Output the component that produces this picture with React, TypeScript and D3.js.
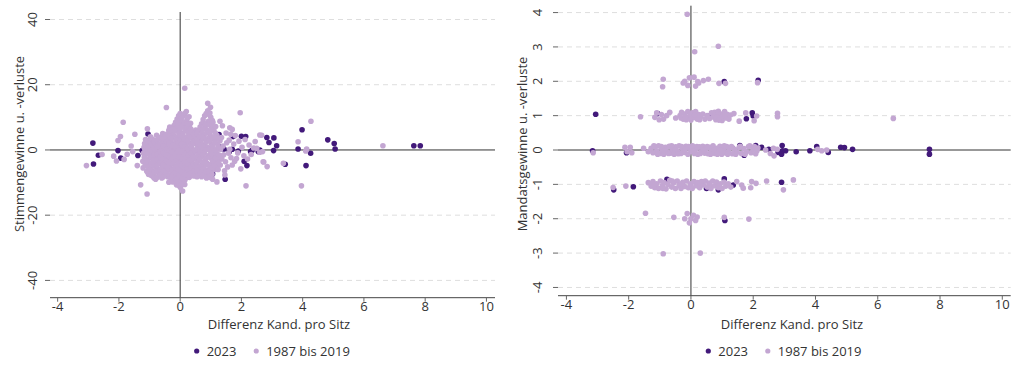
import React from "react";
import * as d3 from "d3";

type P = [number, number];

const xTicks = [-4, -2, 0, 2, 4, 6, 8, 10];
const votesTicks = [40, 20, 0, -20, -40];
const seatsTicks = [4, 3, 2, 1, 0, -1, -2, -3, -4];
const legendLabels = ["2023", "1987 bis 2019"];
const xTitle = "Differenz Kand. pro Sitz";
const votesTitle = "Stimmengewinne u. -verluste";
const seatsTitle = "Mandatsgewinne u. -verluste";

const votes2023: P[] = [
  [-2.85, 2.1], [-2.67, -1.6], [-2.83, -4.3], [-2.03, -0.2], [-1.94, -2.5], [-1.38, -1.7], [-1.24, -0.2],
  [-1.05, 4.9], [-0.53, 4.0], [-0.37, 4.9], [0.73, 3.9], [1.27, 4.7], [1.73, 4.1], [2.0, 4.2], [2.14, 4.1],
  [2.09, -3.5], [2.18, -4.8], [2.3, -0.5], [2.35, -0.1], [2.55, -0.5], [2.83, 3.8], [3.06, 3.7], [2.9, 2.3],
  [3.15, 1.3], [3.05, -0.2], [3.85, 0.3], [3.43, -4.4], [1.47, -9.0], [1.05, -5.8], [1.06, -7.4], [1.43, 0.3],
  [1.3, 0.9], [3.98, 6.2], [4.26, -1.0], [4.11, -4.8], [4.82, 3.1], [5.03, 2.0], [5.06, 0.3], [7.63, 1.3],
  [7.84, 1.3], [2.6, 0.0], [1.7, 0.2], [1.9, -0.3], [0.65, -7.0], [1.6, -0.6]
];

const votesEarlier: P[] = [
  // sparse
  [-3.06, -4.8], [-2.55, -1.4], [-2.17, -1.9], [-2.08, -3.4], [-1.86, 8.5], [-2.03, 2.9], [-1.95, 4.1],
  [-1.73, -1.3], [-1.83, -2.9], [-1.48, 4.8], [-1.4, -4.8], [-1.29, -10.7], [-1.08, -13.5], [-1.07, 6.5],
  [-0.45, 13.0], [-0.37, -9.9], [-0.12, -10.7], [0.08, -12.6], [0.15, -10.6], [0.15, 18.9], [0.9, 14.3],
  [0.99, 13.1], [0.97, 11.3], [1.96, 11.4], [1.62, 6.8], [2.66, 4.5], [2.15, -11.0], [1.46, -7.7],
  [1.06, -9.0], [2.71, -3.6], [2.84, -5.1], [4.27, 8.8], [3.85, 2.5], [4.13, 0.3], [4.1, -0.3], [3.96, -11.0],
  [6.62, 1.3], [3.37, -4.1], [2.73, -3.7], [2.69, -0.5], [2.6, 4.6], [-1.55, -0.5], [-1.6, 1.2],
  // right shoulder
  [1.35, 3.8], [1.4, 1.2], [1.42, -1.5], [1.48, -3.6], [1.5, 5.2], [1.55, -5.2], [1.6, 3.0], [1.62, 0.2],
  [1.66, -2.4], [1.7, -4.6], [1.75, 1.8], [1.8, 4.4], [1.84, -2.6], [1.88, -0.9], [1.92, 2.7], [1.98, -5.8],
  [2.02, 0.8], [2.08, -1.8], [2.12, 3.2], [2.2, -2.8], [2.25, 1.5], [2.32, -1.4], [2.4, 0.6], [2.45, 2.6],
  [2.5, 0.5], [2.6, -0.7], [1.7, 6.3], [1.45, -6.4], [1.38, 7.4], [1.2, -9.8], [1.3, 8.8], [0.34, 8.2],
  [0.29, 10.2], [0.51, 6.1], [1.52, 2.2], [1.58, -1.0], [1.36, -2.8], [1.65, 4.8], [1.78, -3.5],
  // blob, layer 1
  [-1.2, -1.0], [-1.22, -3.5], [-1.18, 0.8], [-1.21, -5.5], [-1.17, -2.2],
  [-1.1, 1.5], [-1.12, -0.5], [-1.08, -2.8], [-1.11, -4.6], [-1.09, -6.5], [-1.13, 3.2],
  [-1.0, 2.4], [-1.02, 0.2], [-0.98, -1.6], [-1.01, -3.9], [-0.99, -5.8], [-1.03, -7.5], [-0.97, 4.0],
  [-0.9, 3.3], [-0.92, 1.0], [-0.88, -0.8], [-0.91, -2.6], [-0.89, -4.4], [-0.93, -6.3], [-0.87, -8.2],
  [-0.8, 2.0], [-0.82, 0.0], [-0.78, -1.8], [-0.81, -3.5], [-0.79, -5.2], [-0.83, -7.0], [-0.77, 4.5], [-0.8, -9.0],
  [-0.7, 3.8], [-0.72, 1.6], [-0.68, -0.6], [-0.71, -2.4], [-0.69, -4.1], [-0.73, -6.0], [-0.67, -7.8],
  [-0.6, 2.9], [-0.62, 0.7], [-0.58, -1.2], [-0.61, -3.1], [-0.59, -4.9], [-0.63, -6.8], [-0.57, 5.0], [-0.6, -8.6],
  [-0.5, 4.2], [-0.52, 1.9], [-0.48, -0.2], [-0.51, -2.0], [-0.49, -3.8], [-0.53, -5.6], [-0.47, -7.4],
  [-0.4, 3.5], [-0.42, 1.2], [-0.38, -0.9], [-0.41, -2.8], [-0.39, -4.6], [-0.43, -6.4], [-0.37, 6.0], [-0.4, -8.3],
  [-0.3, 5.2], [-0.32, 2.6], [-0.28, 0.4], [-0.31, -1.5], [-0.29, -3.3], [-0.33, -5.1], [-0.27, -7.0], [-0.3, -8.8],
  [-0.2, 7.5], [-0.22, 4.6], [-0.18, 2.0], [-0.21, -0.3], [-0.19, -2.2], [-0.23, -4.0], [-0.17, -5.8], [-0.2, -7.7], [-0.22, -9.4],
  [-0.1, 9.5], [-0.12, 6.8], [-0.08, 4.0], [-0.11, 1.4], [-0.09, -0.8], [-0.13, -2.9], [-0.07, -4.8], [-0.1, -6.6], [-0.12, -8.5], [-0.08, -10.2],
  [0.0, 11.2], [0.02, 8.6], [-0.02, 6.0], [0.01, 3.2], [-0.01, 0.8], [0.03, -1.4], [-0.03, -3.5], [0.0, -5.4], [0.02, -7.2], [-0.02, -9.1], [0.01, -11.5],
  [0.1, 10.5], [0.12, 7.8], [0.08, 5.1], [0.11, 2.4], [0.09, 0.0], [0.13, -2.1], [0.07, -4.2], [0.1, -6.1], [0.12, -8.0], [0.08, -9.8],
  [0.2, 11.8], [0.22, 9.2], [0.18, 6.6], [0.21, 4.0], [0.19, 1.5], [0.23, -0.7], [0.17, -2.9], [0.2, -5.0], [0.22, -6.9], [0.18, -8.7],
  [0.3, 7.2], [0.32, 4.8], [0.28, 2.2], [0.31, -0.2], [0.29, -2.4], [0.33, -4.5], [0.27, -6.4], [0.3, -8.4],
  [0.4, 5.5], [0.42, 3.0], [0.38, 0.6], [0.41, -1.6], [0.39, -3.8], [0.43, -5.8], [0.37, -7.6],
  [0.5, 4.2], [0.52, 1.8], [0.48, -0.5], [0.51, -2.7], [0.49, -4.9], [0.53, -6.9],
  [0.6, 5.8], [0.62, 3.2], [0.58, 0.9], [0.61, -1.3], [0.59, -3.5], [0.63, -5.6], [0.57, -7.8],
  [0.7, 8.0], [0.72, 5.0], [0.68, 2.4], [0.71, 0.1], [0.69, -2.2], [0.73, -4.3], [0.67, -6.4], [0.7, -8.2],
  [0.8, 10.5], [0.82, 7.4], [0.78, 4.4], [0.81, 1.6], [0.79, -0.9], [0.83, -3.1], [0.77, -5.2], [0.8, -7.3],
  [0.9, 12.0], [0.92, 8.8], [0.88, 6.2], [0.91, 3.5], [0.89, 0.8], [0.93, -1.7], [0.87, -4.0], [0.9, -6.2], [0.92, -8.0],
  [1.0, 10.0], [1.02, 7.2], [0.98, 4.6], [1.01, 2.0], [0.99, -0.4], [1.03, -2.8], [0.97, -5.0], [1.0, -7.0],
  [1.1, 6.0], [1.12, 3.2], [1.08, 0.6], [1.11, -1.8], [1.09, -4.0], [1.13, -6.0], [1.07, 8.5],
  [1.2, 4.5], [1.22, 1.8], [1.18, -0.8], [1.21, -3.2], [1.19, -5.3],
  [1.3, 2.8], [1.32, 0.2], [1.28, -2.2], [1.31, -4.6],
  // blob, layer 2
  [-1.15, 0.0], [-1.15, -2.3], [-1.14, -4.5], [-1.16, 2.0],
  [-1.05, 0.9], [-1.05, -1.1], [-1.06, -3.3], [-1.04, -5.2], [-1.05, -7.0], [-1.06, 2.8],
  [-0.95, 1.8], [-0.96, -0.2], [-0.94, -2.1], [-0.95, -4.0], [-0.96, -5.9], [-0.94, -7.8], [-0.95, 3.6],
  [-0.85, 2.6], [-0.86, 0.5], [-0.84, -1.3], [-0.85, -3.0], [-0.86, -4.9], [-0.84, -6.7], [-0.85, -8.6],
  [-0.75, 3.0], [-0.76, 0.9], [-0.74, -1.2], [-0.75, -3.0], [-0.76, -4.8], [-0.74, -6.6], [-0.75, -8.4],
  [-0.65, 3.9], [-0.66, 1.8], [-0.64, -0.3], [-0.65, -2.1], [-0.66, -4.0], [-0.64, -5.9], [-0.65, -7.6],
  [-0.55, 3.4], [-0.56, 1.2], [-0.54, -0.8], [-0.55, -2.8], [-0.56, -4.6], [-0.54, -6.4], [-0.55, -8.2],
  [-0.45, 4.8], [-0.46, 2.5], [-0.44, 0.3], [-0.45, -1.5], [-0.46, -3.3], [-0.44, -5.1], [-0.45, -7.0],
  [-0.35, 4.2], [-0.36, 2.0], [-0.34, -0.2], [-0.35, -2.2], [-0.36, -4.0], [-0.34, -5.9], [-0.35, -7.7], [-0.34, 7.0],
  [-0.25, 6.3], [-0.26, 3.6], [-0.24, 1.4], [-0.25, -0.6], [-0.26, -2.5], [-0.24, -4.3], [-0.25, -6.1], [-0.26, -8.0], [-0.24, -9.8],
  [-0.15, 8.5], [-0.16, 5.8], [-0.14, 3.1], [-0.15, 0.8], [-0.16, -1.3], [-0.14, -3.3], [-0.15, -5.2], [-0.16, -7.0], [-0.14, -9.0],
  [-0.05, 10.5], [-0.06, 7.8], [-0.04, 5.0], [-0.05, 2.3], [-0.06, 0.0], [-0.04, -2.1], [-0.05, -4.1], [-0.06, -6.0], [-0.04, -8.0], [-0.05, -9.8], [-0.03, -11.0],
  [0.05, 9.8], [0.04, 7.0], [0.06, 4.4], [0.05, 1.8], [0.04, -0.5], [0.06, -2.7], [0.05, -4.7], [0.04, -6.6], [0.06, -8.5], [0.05, -10.5],
  [0.15, 11.2], [0.14, 8.4], [0.16, 5.8], [0.15, 3.2], [0.14, 0.8], [0.16, -1.4], [0.15, -3.6], [0.14, -5.6], [0.16, -7.5], [0.15, -9.3],
  [0.25, 10.0], [0.24, 8.0], [0.26, 5.6], [0.25, 3.0], [0.24, 0.6], [0.26, -1.6], [0.25, -3.7], [0.24, -5.8], [0.26, -7.7],
  [0.35, 6.4], [0.34, 3.9], [0.36, 1.4], [0.35, -1.0], [0.34, -3.1], [0.36, -5.2], [0.35, -7.0],
  [0.45, 4.8], [0.44, 2.3], [0.46, 0.0], [0.45, -2.2], [0.44, -4.4], [0.46, -6.4], [0.45, -8.0],
  [0.55, 5.0], [0.54, 2.6], [0.56, 0.2], [0.55, -2.0], [0.54, -4.2], [0.56, -6.3], [0.55, -8.2],
  [0.65, 7.0], [0.64, 4.1], [0.66, 1.6], [0.65, -0.6], [0.64, -2.9], [0.66, -5.0], [0.65, -7.1],
  [0.75, 9.3], [0.74, 6.4], [0.76, 3.5], [0.75, 0.9], [0.74, -1.5], [0.76, -3.7], [0.75, -5.8], [0.74, -7.8],
  [0.85, 11.2], [0.84, 8.0], [0.86, 5.2], [0.85, 2.6], [0.84, 0.0], [0.86, -2.4], [0.85, -4.6], [0.84, -6.7], [0.86, -8.6],
  [0.95, 10.8], [0.94, 7.9], [0.96, 5.4], [0.95, 2.8], [0.94, 0.2], [0.96, -2.2], [0.95, -4.5], [0.94, -6.6], [0.96, -8.4],
  [1.05, 9.0], [1.04, 6.4], [1.06, 3.8], [1.05, 1.3], [1.04, -1.1], [1.06, -3.4], [1.05, -5.5], [1.04, -7.5],
  [1.15, 5.2], [1.14, 2.4], [1.16, -0.1], [1.15, -2.5], [1.14, -4.8], [1.16, 7.2],
  [1.25, 3.6], [1.24, 1.0], [1.26, -1.5], [1.25, -3.9], [1.24, -6.0]
];

const seats2023: P[] = [
  [-3.06, 1.04], [-1.07, 1.06], [0.58, 0.99], [1.78, 0.91], [1.97, 1.08], [2.0, 0.99], [-3.16, -0.02],
  [-2.07, -0.08], [1.31, 0.08], [1.57, 0.13], [1.71, -0.15], [2.08, 0.13], [2.27, 0.08], [2.5, 0.02],
  [2.93, 0.13], [2.94, -0.02], [2.91, -0.12], [3.04, -0.02], [2.8, -0.07], [3.38, -0.05], [3.82, -0.02],
  [4.04, 0.1], [4.41, -0.07], [4.81, 0.08], [4.93, 0.07], [5.19, 0.02], [7.66, 0.02], [7.66, -0.12],
  [-2.48, -1.16], [-1.85, -1.07], [-0.77, -0.85], [0.5, -1.12], [0.88, -1.16], [1.07, -0.84], [1.36, -1.02],
  [2.91, -0.94], [1.09, -2.05], [1.07, 1.99], [2.16, 2.03]
];

const seatsEarlier: P[] = [
  // row 0
  [-1.28, 0.05], [-1.22, -0.08], [-1.15, 0.1], [-1.1, -0.03], [-1.04, 0.12], [-0.98, -0.1], [-0.93, 0.02],
  [-0.87, -0.12], [-0.82, 0.08], [-0.76, -0.05], [-0.7, 0.11], [-0.65, -0.09], [-0.6, 0.03], [-0.54, -0.12],
  [-0.49, 0.09], [-0.43, -0.04], [-0.38, 0.12], [-0.32, -0.1], [-0.27, 0.04], [-0.21, -0.07], [-0.16, 0.11],
  [-0.1, -0.12], [-0.05, 0.06], [0.0, -0.04], [0.05, 0.12], [0.11, -0.1], [0.16, 0.02], [0.22, -0.12],
  [0.27, 0.09], [0.33, -0.05], [0.38, 0.11], [0.44, -0.09], [0.49, 0.04], [0.55, -0.11], [0.6, 0.08],
  [0.66, -0.03], [0.71, 0.12], [0.77, -0.1], [0.82, 0.05], [0.88, -0.06], [0.93, 0.11], [0.99, -0.12],
  [1.04, 0.03], [1.1, -0.08], [1.15, 0.1], [1.21, -0.04], [1.27, 0.07], [1.33, -0.11], [1.4, 0.02],
  [1.48, -0.06], [1.55, 0.08], [1.62, -0.1], [1.7, 0.04], [1.78, -0.05], [1.85, 0.1], [1.93, -0.08],
  [2.0, 0.02], [2.08, -0.11], [2.15, 0.06],
  [-1.19, 0.12], [-1.07, -0.12], [-0.95, 0.1], [-0.84, -0.02], [-0.72, -0.1], [-0.62, 0.12], [-0.51, 0.0],
  [-0.41, -0.11], [-0.3, 0.1], [-0.19, 0.0], [-0.08, 0.1], [0.02, 0.08], [0.08, -0.02], [0.19, 0.1],
  [0.3, -0.1], [0.41, 0.0], [0.52, 0.1], [0.63, -0.12], [0.74, 0.0], [0.85, -0.12], [0.96, 0.0], [1.07, 0.12],
  [1.18, -0.12], [1.3, 0.1], [1.44, -0.12], [1.58, 0.11], [1.74, -0.12], [1.89, 0.12], [2.04, 0.1], [2.12, -0.02],
  [-3.14, -0.08], [-2.12, 0.08], [-2.05, -0.05], [-1.95, 0.08], [-1.9, -0.08], [-1.52, 0.05], [-1.37, -0.05],
  [2.65, 0.05], [2.77, 0.02], [2.67, -0.17], [4.07, 0.02], [4.2, -0.02], [4.36, 0.0], [2.4, 0.0], [2.55, -0.1],
  // row 1
  [-1.62, 0.97], [-1.16, 0.95], [-1.1, 1.08], [-1.02, 0.88], [-0.95, 1.03], [-0.88, 0.9], [-0.78, 1.0],
  [-0.68, 1.1], [-0.49, 0.93],
  [-0.35, 1.0], [-0.3, 1.1], [-0.25, 0.9], [-0.2, 1.05], [-0.15, 0.88], [-0.1, 1.12], [-0.05, 0.97],
  [0.0, 0.87], [0.05, 1.08], [0.1, 0.95], [0.15, 1.12], [0.2, 0.9], [0.25, 1.03], [0.3, 0.95], [0.38, 1.05],
  [0.45, 0.9], [0.52, 1.0], [0.6, 0.92], [0.66, 1.08], [0.72, 0.96], [0.76, 1.1], [0.8, 0.88], [0.84, 1.02],
  [0.88, 1.13], [0.92, 0.93], [0.96, 1.05], [1.0, 0.86], [1.04, 1.0], [1.08, 1.12], [1.12, 0.93], [1.16, 1.04],
  [1.22, 0.9], [1.27, 1.02], [-0.32, 0.93], [-0.18, 0.97], [-0.02, 1.04], [0.12, 1.02], [0.28, 0.88],
  [0.82, 0.97], [0.98, 0.97], [1.1, 1.02], [0.9, 0.87],
  [1.38, 1.06], [1.55, 0.84], [1.76, 1.08], [2.11, 0.99], [2.03, 0.85], [2.78, 1.07], [2.78, 0.97], [6.5, 0.92],
  // row -1
  [-2.5, -1.09], [-2.09, -1.05], [-1.37, -0.95],
  [-1.28, -1.05], [-1.22, -0.92], [-1.16, -1.1], [-1.1, -0.98], [-1.04, -1.12], [-0.98, -0.9], [-0.92, -1.04],
  [-0.86, -0.95], [-0.8, -1.13], [-0.74, -1.0], [-0.68, -0.88], [-0.62, -1.08], [-0.56, -0.96], [-0.5, -1.12],
  [-0.44, -0.9], [-0.38, -1.03], [-0.32, -1.12], [-0.26, -0.94], [-0.2, -1.06], [-0.14, -0.9], [-0.08, -1.1],
  [-0.02, -0.98], [0.04, -1.12], [0.1, -0.92], [0.16, -1.04], [0.22, -0.95], [0.28, -1.1], [0.34, -0.92],
  [0.4, -1.02], [0.46, -0.9], [0.52, -1.08], [0.58, -0.96], [0.64, -1.12], [0.7, -0.9], [0.76, -1.04],
  [0.82, -0.93], [0.88, -1.1], [0.94, -0.98], [1.0, -1.12], [1.06, -0.93], [1.12, -1.05], [1.2, -0.98],
  [1.28, -1.08], [-0.9, -1.12], [-0.6, -0.9], [-0.3, -0.98], [0.0, -1.06], [0.3, -1.0], [0.6, -1.02],
  [0.9, -1.04], [-1.2, -1.02],
  [1.47, -0.92], [1.63, -1.02], [1.68, -1.11], [1.95, -0.92], [2.09, -0.97], [1.92, -1.1], [2.43, -0.9],
  [2.97, -1.16], [3.29, -0.87],
  // row 2
  [-0.89, 2.06], [-0.91, 1.84], [-0.2, 2.0], [-0.05, 2.1], [0.1, 2.12], [0.25, 1.95], [-0.1, 1.88],
  [0.15, 1.86], [0.4, 2.02], [-0.25, 1.95], [0.22, 1.99], [0.56, 2.06], [0.9, 1.94], [1.11, 1.94], [2.14, 1.96],
  // row -2
  [-1.46, -1.84], [-0.55, -1.96], [-0.12, -1.85], [0.0, -2.0], [0.15, -2.05], [-0.05, -2.12], [0.2, -1.95],
  [-0.2, -2.0], [0.08, -1.9], [1.07, -1.96], [1.86, -2.01],
  // rows 3, 4, -3
  [-0.12, 3.95], [0.12, 2.86], [0.88, 3.02], [-0.89, -3.02], [0.3, -3.0]
];

const DARK = "#42197a";
const LIGHT = "#c3a6d2";
const FONT = "'Open Sans', 'DejaVu Sans', sans-serif";

interface PanelProps {
  xRange: [number, number];
  xDomain: [number, number];
  yRange: [number, number];
  yDomain: [number, number];
  yTicks: number[];
  yTitle: string;
  yTitleX: number;
  yLabelX: number;
  dataA: P[];
  dataB: P[];
  xTitleX: number;
  legendX: number;
}

function Panel(p: PanelProps) {
  const x = d3.scaleLinear().domain(p.xDomain).range(p.xRange);
  const y = d3.scaleLinear().domain(p.yDomain).range(p.yRange);
  const [x0, x1] = p.xRange;
  const [yb, yt] = p.yRange;
  const r = 2.8;
  return (
    <g fontFamily={FONT} fontSize={13} fill="#333">
      {p.yTicks.filter((t) => t !== 0).map((t) => (
        <line key={"g" + t} x1={x0} x2={x1} y1={y(t)} y2={y(t)} stroke="#dedede" strokeDasharray="5,4" />
      ))}
      {p.yTicks.map((t) => (
        <g key={"t" + t}>
          <line x1={x0 - 5} x2={x0} y1={y(t)} y2={y(t)} stroke="#666" />
          <text transform={`translate(${p.yLabelX},${y(t)}) rotate(-90)`} textAnchor="middle">
            {String(t)}
          </text>
        </g>
      ))}
      <line x1={x0} x2={x1} y1={y(0)} y2={y(0)} stroke="#333" />
      <line x1={x(0)} x2={x(0)} y1={yt} y2={yb} stroke="#333" />
      <line x1={x0} x2={x1} y1={yb} y2={yb} stroke="#444" />
      {xTicks.map((t) => (
        <g key={"x" + t}>
          <line x1={x(t)} x2={x(t)} y1={yb} y2={yb + 4} stroke="#666" />
          <text x={x(t)} y={yb + 13.5} textAnchor="middle">{String(t)}</text>
        </g>
      ))}
      <text x={p.xTitleX} y={328.5} textAnchor="middle">{xTitle}</text>
      <text transform={`translate(${p.yTitleX},144) rotate(-90)`} textAnchor="middle">{p.yTitle}</text>
      {p.dataA.map((d, i) => (
        <circle key={"a" + i} cx={x(d[0])} cy={y(d[1])} r={r} fill={DARK} />
      ))}
      {p.dataB.map((d, i) => (
        <circle key={"b" + i} cx={x(d[0])} cy={y(d[1])} r={r} fill={LIGHT} />
      ))}
      <circle cx={p.legendX} cy={351} r={2.6} fill={DARK} />
      <text x={p.legendX + 10} y={355.5}>{legendLabels[0]}</text>
      <circle cx={p.legendX + 59.5} cy={351} r={2.6} fill={LIGHT} />
      <text x={p.legendX + 69.5} y={355.5}>{legendLabels[1]}</text>
    </g>
  );
}

export default function App() {
  return (
    <svg width={1024} height={368} style={{ position: "absolute", left: 0, top: 0, background: "#fff" }}>
      <rect width={1024} height={368} fill="#fff" />
      <Panel
        xRange={[50, 495]}
        xDomain={[-4.25, 10.28]}
        yRange={[297.7, 12]}
        yDomain={[-45.3, 42.3]}
        yTicks={votesTicks}
        yTitle={votesTitle}
        yTitleX={24}
        yLabelX={37}
        dataA={votes2023}
        dataB={votesEarlier}
        xTitleX={279}
        legendX={196.7}
      />
      <Panel
        xRange={[558, 1010.7]}
        xDomain={[-4.27, 10.27]}
        yRange={[295.7, 5.7]}
        yDomain={[-4.24, 4.2]}
        yTicks={seatsTicks}
        yTitle={seatsTitle}
        yTitleX={526.5}
        yLabelX={541.5}
        dataA={seats2023}
        dataB={seatsEarlier}
        xTitleX={792}
        legendX={708.3}
      />
    </svg>
  );
}
